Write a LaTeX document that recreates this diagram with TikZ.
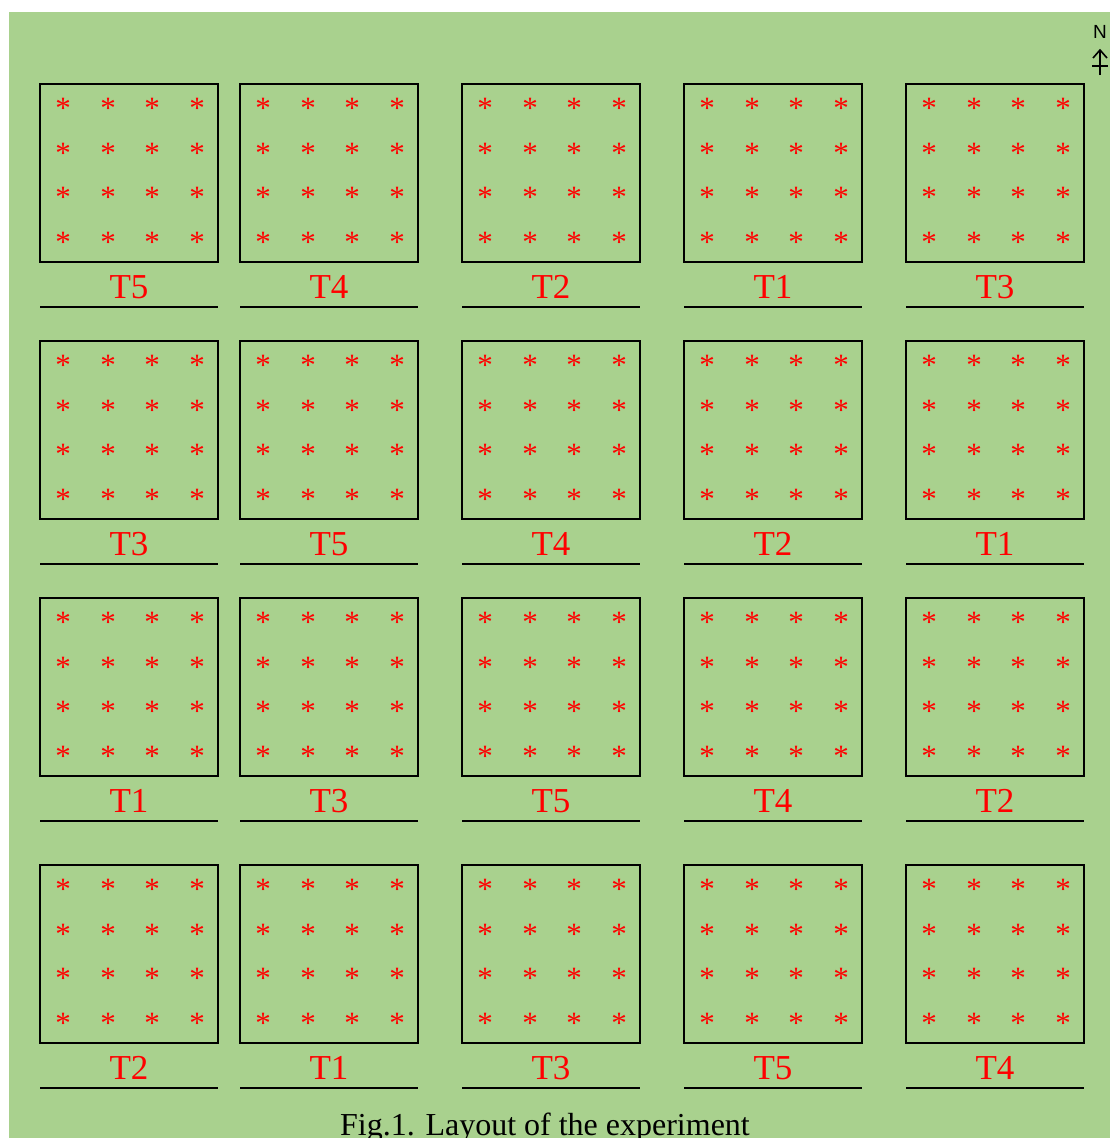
\documentclass[tikz,border=0pt]{standalone}
\usepackage{fontspec}
\setmainfont{Liberation Serif}
\newfontfamily\nsans{Liberation Sans}
\definecolor{fieldgreen}{HTML}{A9D18E}
\definecolor{starred}{HTML}{FF0000}
\tikzset{
  plotbox/.style={draw=black, line width=2.2pt},
  uline/.style={draw=black, line width=2.2pt},
  starmark/.style={text=starred, font=\fontsize{31}{31}\selectfont, inner sep=0pt, anchor=base},
  trt/.style={text=starred, font=\fontsize{35}{35}\selectfont, inner sep=0pt, anchor=base},
}
\begin{document}
\begin{tikzpicture}[x=1pt,y=-1pt]
\fill[white] (0,0) rectangle (1110,1138);
\fill[fieldgreen] (9,12) rectangle (1110,1138);
\useasboundingbox (0,0) rectangle (1110,1138);
% north arrow
\node[font=\nsans\fontsize{19}{19}\selectfont, inner sep=0pt, anchor=base] (north) at (1100,38) {N};
\coordinate (arrtop) at (1100,50);
\coordinate (arrbot) at (1100,75);
\draw[line width=1.6pt] (arrbot) -- (arrtop);
\draw[line width=1.6pt] (1093,58) -- (arrtop) -- (1107,58);
\draw[line width=1.6pt] (1092,66) -- (1108,66);
% plots
\foreach \r/\ytop/\labs in {1/84/{5,4,2,1,3}, 2/341/{3,5,4,2,1}, 3/598/{1,3,5,4,2}, 4/865/{2,1,3,5,4}}{
  \foreach \xl [count=\c] in {40,240,462,684,906}{
    \pgfmathsetmacro{\xr}{\xl+178}
    \pgfmathsetmacro{\yb}{\ytop+178}
    \draw[plotbox] (\xl,\ytop) rectangle (\xr,\yb);
    \foreach \dx in {23,68,112,157}{
      \foreach \dy in {19,64,108,153}{
        \node[starmark] at (\xl+\dx,\ytop+\dy+15) {*};
      }
    }
    \pgfmathtruncatemacro{\lab}{{\labs}[\c-1]}
    \node[trt] (lab\r\c) at (\xl+89,\yb+36) {T\lab};
    \draw[uline] (\xl,\yb+45) -- (\xr,\yb+45);
  }
}
\node[font=\fontsize{32}{32}\selectfont, inner sep=0pt, anchor=base] (caption) at (545,1135) {Fig.1. Layout of the experiment};
\end{tikzpicture}
\end{document}
